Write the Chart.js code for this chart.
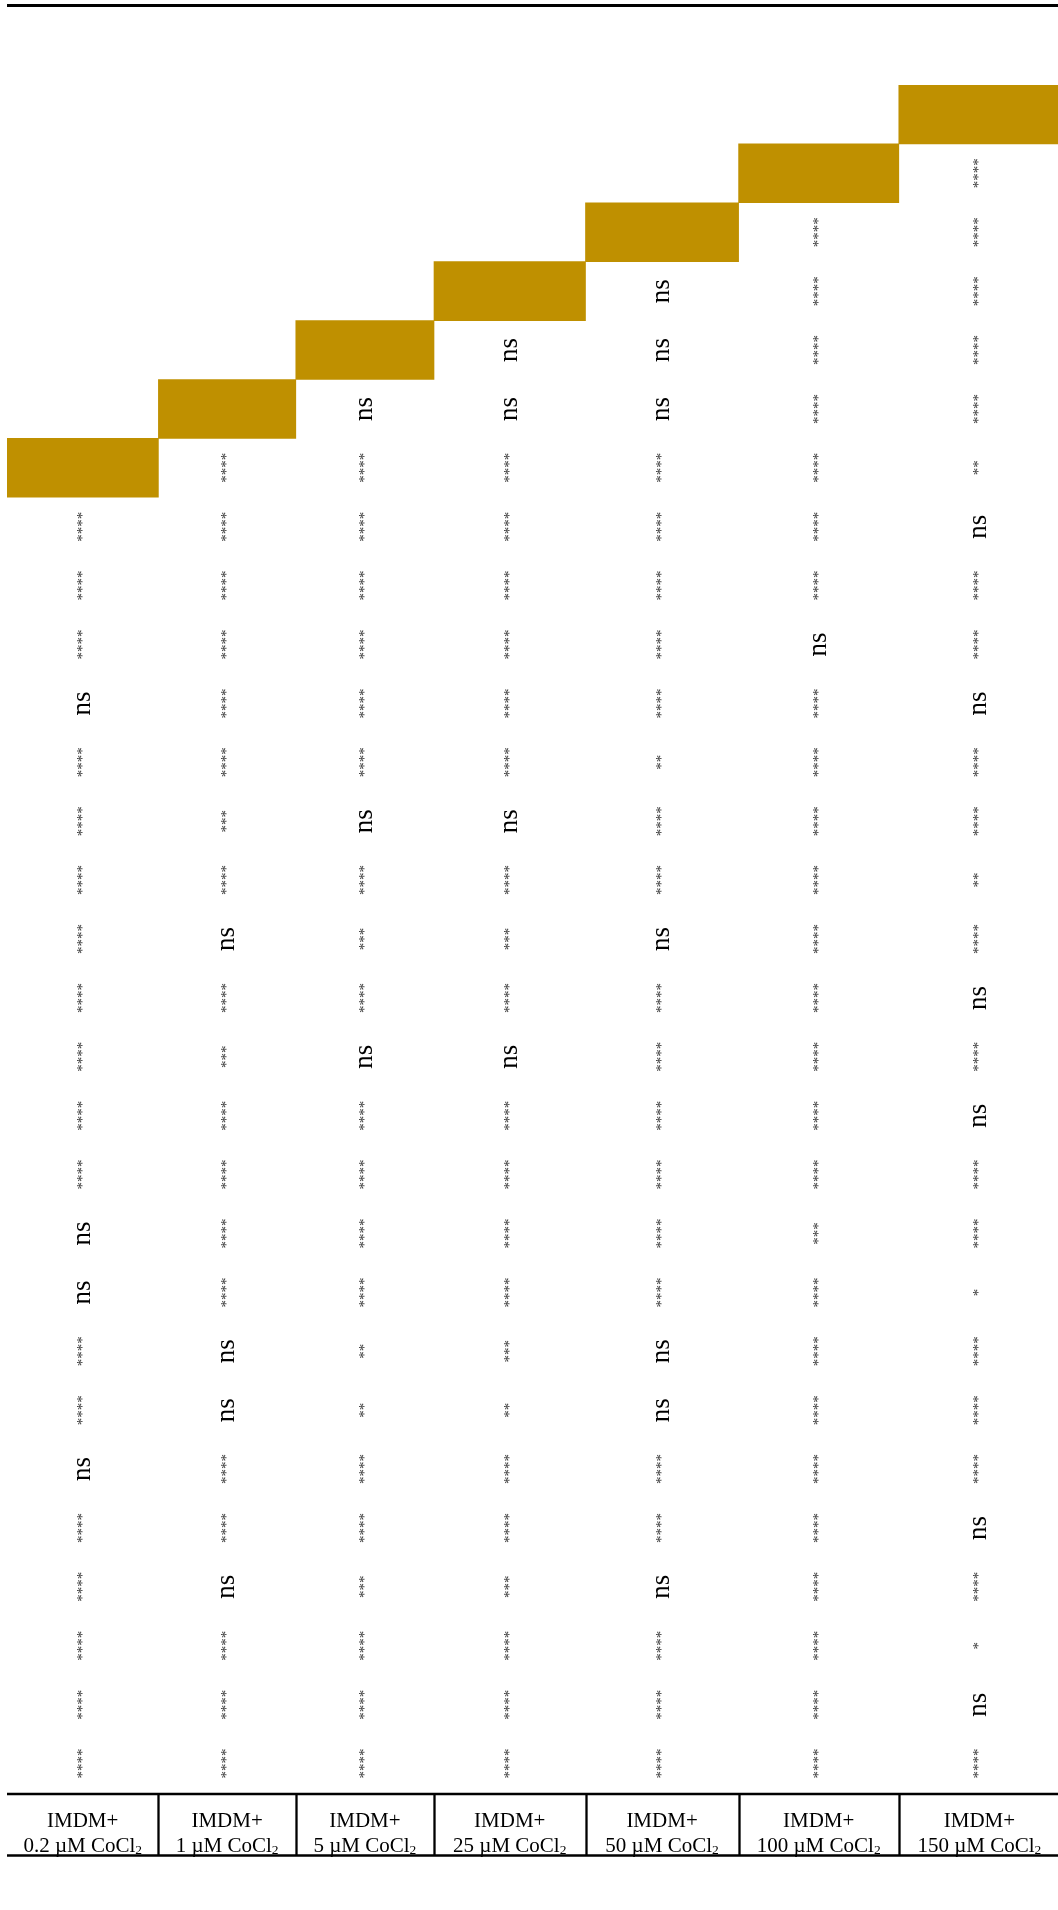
<!DOCTYPE html>
<html>
<head>
<meta charset="utf-8">
<script src="https://cdn.jsdelivr.net/npm/chart.js@4.4.0/dist/chart.umd.min.js"></script>
<style>
  html, body { margin: 0; padding: 0; background: #fff; }
</style>
</head>
<body>
<canvas id="sigchart" width="1058" height="1910"></canvas>
<script>
// CoCl2 doses (µM), one column each
var doses = ['0.2', '1', '5', '25', '50', '100', '150'];

// significance marks for each column, top to bottom, starting right under its gold cell
var sig02  = ['****','****','****','ns','****','****','****','****','****','****','****','****','ns','ns','****','****','ns','****','****','****','****','****'];
var sig1   = ['****','****','****','****','****','****','***','****','ns','****','***','****','****','****','****','ns','ns','****','****','ns','****','****','****'];
var sig5   = ['ns','****','****','****','****','****','****','ns','****','***','****','ns','****','****','****','****','**','**','****','****','***','****','****','****'];
var sig25  = ['ns','ns','****','****','****','****','****','****','ns','****','***','****','ns','****','****','****','****','***','**','****','****','***','****','****','****'];
var sig50  = ['ns','ns','ns','****','****','****','****','****','**','****','****','ns','****','****','****','****','****','****','ns','ns','****','****','ns','****','****','****'];
var sig100 = ['****','****','****','****','****','****','****','ns','****','****','****','****','****','****','****','****','****','***','****','****','****','****','****','****','****','****','****'];
var sig150 = ['****','****','****','****','****','**','ns','****','****','ns','****','****','**','****','ns','****','ns','****','****','*','****','****','****','ns','****','*','ns','****'];

var marks = [sig02, sig1, sig5, sig25, sig50, sig100, sig150];

var rowIds = [];
for (var r = 0; r < 29; r++) rowIds.push('r' + r);

// column boundaries along x (table units); the last column runs past the canvas edge
var colEdges = [0, 151.4, 288.8, 427, 578.5, 731.6, 891.8, 1053];
var xMax = 1051;
var gold = '#bf9000';
var serif = "'Liberation Serif', 'Times New Roman', serif";

// gold diagonal: column j sits on row 6 - j
var goldCells = rowIds.map(function(id, r) {
  var j = 6 - r;
  if (j < 0 || j > 6) return null;
  return [colEdges[j], Math.min(colEdges[j + 1], xMax)];
});

function colCentre(j) {
  return (colEdges[j] + colEdges[j + 1]) / 2;
}

var tableMarks = {
  id: 'tableMarks',
  afterDatasetsDraw: function(chart) {
    var ctx = chart.ctx;
    var xs = chart.scales.x, ys = chart.scales.y;
    var area = chart.chartArea;
    ctx.save();

    // rotated significance marks
    ctx.textAlign = 'center';
    ctx.textBaseline = 'middle';
    marks.forEach(function(col, j) {
      var cx = xs.getPixelForValue(colCentre(j));
      col.forEach(function(m, k) {
        var row = 7 - j + k;
        var cy = ys.getPixelForValue(row);
        ctx.save();
        ctx.translate(cx, cy);
        ctx.rotate(-Math.PI / 2);
        if (m === 'ns') {
          ctx.font = '27px ' + serif;
          ctx.fillStyle = '#000';
        } else {
          ctx.font = '15px ' + serif;
          ctx.fillStyle = '#333';
        }
        ctx.fillText(m, 0, 0);
        ctx.restore();
      });
    });

    // rules
    ctx.strokeStyle = '#000';
    ctx.lineWidth = 3;
    ctx.beginPath();
    ctx.moveTo(area.left, area.top - 79.5);
    ctx.lineTo(area.right, area.top - 79.5);
    ctx.stroke();

    ctx.lineWidth = 2.3;
    var y0 = area.bottom + 1, y1 = area.bottom + 62.5;
    ctx.beginPath();
    ctx.moveTo(area.left, y0); ctx.lineTo(area.right, y0);
    ctx.moveTo(area.left, y1); ctx.lineTo(area.right, y1);
    for (var j = 1; j < 7; j++) {
      var ex = Math.round(xs.getPixelForValue(colEdges[j])) + 0.5;
      ctx.moveTo(ex, y0); ctx.lineTo(ex, y1);
    }
    ctx.stroke();

    // column labels
    ctx.fillStyle = '#000';
    ctx.textBaseline = 'alphabetic';
    doses.forEach(function(d, j) {
      var cx = xs.getPixelForValue(colCentre(j));
      ctx.font = '21px ' + serif;
      ctx.textAlign = 'center';
      ctx.fillText('IMDM+', cx, area.bottom + 34);
      var main = d + ' \u00b5M CoCl';
      var wMain = ctx.measureText(main).width;
      ctx.font = '13.5px ' + serif;
      var wSub = ctx.measureText('2').width;
      var sx = cx - (wMain + wSub) / 2;
      ctx.textAlign = 'left';
      ctx.font = '21px ' + serif;
      ctx.fillText(main, sx, area.bottom + 58.5);
      ctx.font = '13.5px ' + serif;
      ctx.fillText('2', sx + wMain, area.bottom + 60.5);
    });
    ctx.restore();
  }
};

new Chart(document.getElementById('sigchart'), {
  type: 'bar',
  data: {
    labels: rowIds,
    datasets: [{
      data: goldCells,
      backgroundColor: gold,
      borderWidth: 0,
      barPercentage: 1,
      categoryPercentage: 1
    }]
  },
  options: {
    indexAxis: 'y',
    responsive: false,
    devicePixelRatio: 1,
    animation: false,
    layout: { padding: { left: 7, right: 0, top: 85, bottom: 117 } },
    scales: {
      x: { type: 'linear', min: 0, max: xMax, display: false },
      y: { type: 'category', display: false, offset: true, grid: { display: false } }
    },
    plugins: { legend: { display: false }, tooltip: { enabled: false } }
  },
  plugins: [tableMarks]
});
</script>
</body>
</html>
